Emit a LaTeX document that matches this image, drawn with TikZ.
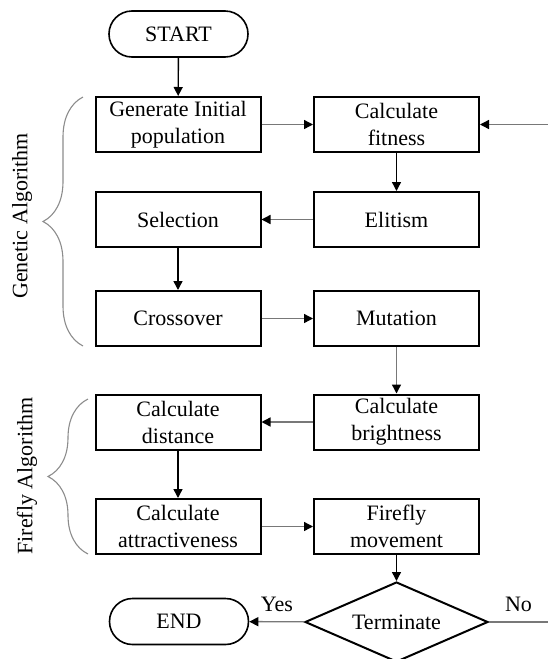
\documentclass[tikz,border=0pt]{standalone}
\usepackage{fontspec}
\setmainfont{Liberation Serif}
\usetikzlibrary{arrows.meta,shapes.geometric,decorations.pathreplacing}
\definecolor{flgray}{RGB}{120,120,120}
\definecolor{brgray}{RGB}{140,140,140}

\tikzset{
  stepbox/.style={draw,line width=2pt,minimum width=165pt,minimum height=55pt,
    inner sep=0pt,align=center,font=\fontsize{22}{27}\selectfont},
  termbox/.style={draw,line width=1.6pt,rounded corners=23pt,minimum width=139pt,
    minimum height=46pt,inner sep=0pt,font=\fontsize{22}{27}\selectfont},
  decbox/.style={draw,diamond,aspect=2.3,line width=2pt,minimum width=183pt,
    minimum height=80pt,inner sep=0pt,font=\fontsize{22}{27}\selectfont},
  flow/.style={line width=1.4pt,-{Triangle[length=9pt,width=9pt,color=black]}},
  flowg/.style={flow,flgray},
  grbrace/.style={brgray,line width=1.1pt,decorate,decoration={brace,amplitude=40pt}},
  grtext/.style={rotate=90,font=\fontsize{22}{27}\selectfont}
}

\begin{document}
\begin{tikzpicture}[x=1pt,y=-1pt]
  \useasboundingbox (0,0) rectangle (548,659);
  \clip (0,0) rectangle (548,659);
  % terminals
  \node[termbox] (start) at (178.5,34) {START};
  \node[termbox] (end) at (179,621.5) {END};
  % genetic algorithm
  \node[stepbox] (gen) at (178,124.5) {Generate Initial\\population};
  \node[stepbox] (fit) at (396.5,124.5) {Calculate\\fitness};
  \node[stepbox] (elit) at (396.5,219.5) {Elitism};
  \node[stepbox] (sel) at (178,219.5) {Selection};
  \node[stepbox] (cross) at (178,318.5) {Crossover};
  \node[stepbox] (mut) at (396.5,318.5) {Mutation};
  % firefly algorithm
  \node[stepbox] (bright) at (396.5,422) {Calculate\\brightness};
  \node[stepbox] (dist) at (178,422) {Calculate\\distance};
  \node[stepbox] (attr) at (178,526.5) {Calculate\\attractiveness};
  \node[stepbox] (move) at (396.5,526.5) {Firefly\\movement};
  \node[decbox] (term) at (396.5,622) {Terminate};
  \coordinate (loopin) at (548,124.5);
  \coordinate (loopout) at (548,622);
  % connectors
  \draw[flow] (start) -- (gen);
  \draw[flowg] (gen) -- (fit);
  \draw[flowg] (loopin) -- (fit);
  \draw[flow] (fit) -- (elit);
  \draw[flowg] (elit) -- (sel);
  \draw[flow] (sel) -- (cross);
  \draw[flowg] (cross) -- (mut);
  \draw[flowg] (mut) -- (bright);
  \draw[flowg] (bright) -- (dist);
  \draw[flow] (dist) -- (attr);
  \draw[flowg] (attr) -- (move);
  \draw[flow] (move) -- (term);
  \draw[flowg] (term) -- node[above=6pt,black,font=\fontsize{22}{27}\selectfont] (yes) {Yes} (end);
  \draw[flgray,line width=1.4pt] (term.east) -- node[above=6pt,black,font=\fontsize{22}{27}\selectfont] (no) {No} (loopout);
  % braces
  \draw[grbrace] (83,346) -- (83,97);
  \draw[grbrace] (88,554) -- (88,399);
  \node[grtext] (galabel) at (22,216) {Genetic Algorithm};
  \node[grtext] (falabel) at (27,476) {Firefly Algorithm};
\end{tikzpicture}
\end{document}
